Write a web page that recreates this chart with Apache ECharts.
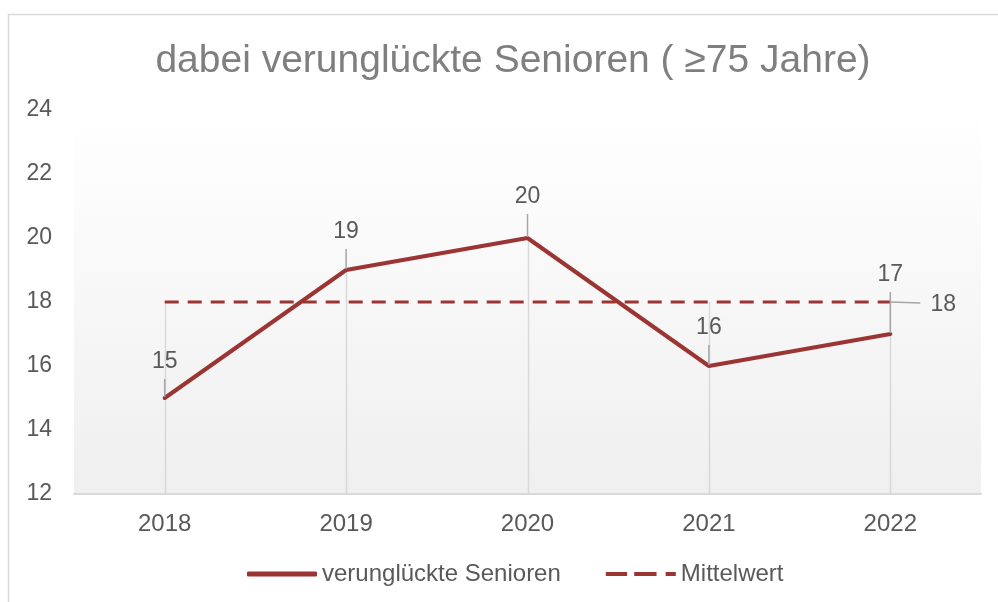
<!DOCTYPE html>
<html><head><meta charset="utf-8">
<script src="https://cdn.jsdelivr.net/npm/echarts@6/dist/echarts.min.js"></script>
<style>html,body{margin:0;padding:0;background:#fff}#c{width:998px;height:602px}</style>
</head><body><div id="c"></div>
<script>
const categories = ['2018', '2019', '2020', '2021', '2022'];
const seniors = [15, 19, 20, 16, 17];
const mittelwert = [18, 18, 18, 18, 18];
const yTicks = [12, 14, 16, 18, 20, 22, 24];

// label placement (pixel offsets relative to point)
const labelDy = [-36, -38, -41, -38, -59];
const meanLabelOffset = [53, 3];

const RED = '#9b3533';
const FONT = 'Liberation Sans, Arial, sans-serif';

const chart = echarts.init(document.getElementById('c'));
chart.setOption({
  animation: false,
  backgroundColor: '#fff',
  textStyle: { fontFamily: FONT },
  title: {
    text: 'dabei verunglückte Senioren ( ≥75 Jahre)',
    left: 508, top: 37, textAlign: 'center',
    textStyle: { fontSize: 39, fontWeight: 'normal', color: '#7f7f7f', fontFamily: FONT }
  },
  graphic: [{
    type: 'rect', silent: true, z: -10,
    shape: { x: 8.5, y: 14.5, width: 1100, height: 700 },
    style: { fill: 'none', stroke: '#d9d9d9', lineWidth: 1.5 }
  }],
  grid: {
    left: 74, right: 17, top: 110, bottom: 108, show: true, borderWidth: 0,
    backgroundColor: new echarts.graphic.LinearGradient(0, 0, 0, 1, [
      { offset: 0, color: '#ffffff' }, { offset: 1, color: '#efefef' }])
  },
  legend: {
    bottom: 11, left: 242, itemWidth: 70, itemHeight: 5, itemGap: 45,
    textStyle: { fontSize: 24, color: '#595959', fontFamily: FONT },
    data: [
      { name: 'verunglückte Senioren', icon: 'roundRect' },
      { name: 'Mittelwert',
        icon: 'path://M0,0h21v4h-21zM28,0h22v4h-22zM59,0h10v4h-10z' }
    ]
  },
  xAxis: {
    type: 'category', data: categories, boundaryGap: true,
    axisLine: { show: true, lineStyle: { color: '#d9d9d9', width: 2 } },
    axisTick: { show: false },
    axisLabel: { fontSize: 24, color: '#595959', margin: 18, fontFamily: FONT },
    splitLine: { show: false }
  },
  yAxis: {
    type: 'value', min: yTicks[0], max: yTicks[yTicks.length - 1], interval: 2,
    axisLine: { show: false }, axisTick: { show: false },
    splitLine: { show: false },
    axisLabel: { fontSize: 23, color: '#595959', margin: 22, fontFamily: FONT }
  },
  series: [
    {
      type: 'custom', name: 'drop', silent: true, z: 1,
      data: categories.map((c, i) => i),
      encode: { x: 0 },
      renderItem: function (params, api) {
        const i = params.dataIndex;
        const top = api.coord([i, Math.max(seniors[i], mittelwert[i])]);
        const bot = api.coord([i, yTicks[0]]);
        return {
          type: 'line', silent: true,
          shape: { x1: Math.round(top[0]) + 0.5, y1: top[1], x2: Math.round(top[0]) + 0.5, y2: bot[1] },
          style: { stroke: '#d9d9d9', lineWidth: 1.5 }
        };
      }
    },
    {
      name: 'Mittelwert', type: 'line', data: mittelwert, z: 3,
      symbol: 'none', showSymbol: false,
      lineStyle: { color: RED, width: 3, type: [14, 9] },
      itemStyle: { color: RED }
    },
    {
      name: 'verunglückte Senioren', type: 'line', data: seniors, z: 4,
      symbol: 'none', showSymbol: false,
      lineStyle: { color: RED, width: 4, cap: 'round' },
      itemStyle: { color: RED }
    },
    {
      type: 'custom', name: 'labels', silent: true, z: 5,
      data: categories.map((c, i) => i),
      encode: { x: 0 },
      renderItem: function (params, api) {
        const i = params.dataIndex;
        const p = api.coord([i, seniors[i]]);
        const ly = p[1] + labelDy[i];
        const children = [
          { type: 'line', shape: { x1: p[0], y1: ly + 17, x2: p[0], y2: p[1] - 1 },
            style: { stroke: '#a6a6a6', lineWidth: 1.5 } },
          { type: 'text', style: { text: String(seniors[i]), x: p[0], y: ly, align: 'center', verticalAlign: 'middle',
            fontSize: 23, fill: '#595959', fontFamily: FONT } }
        ];
        if (i === categories.length - 1) {
          const m = api.coord([i, mittelwert[i]]);
          children.push(
            { type: 'line', shape: { x1: m[0], y1: m[1], x2: m[0] + 30, y2: m[1] + 1 },
              style: { stroke: '#a6a6a6', lineWidth: 1.5 } },
            { type: 'text', style: { text: String(mittelwert[i]), x: m[0] + meanLabelOffset[0], y: m[1] + meanLabelOffset[1],
              align: 'center', verticalAlign: 'middle', fontSize: 23, fill: '#595959', fontFamily: FONT } }
          );
        }
        return { type: 'group', children: children };
      }
    }
  ]
});
</script></body></html>
